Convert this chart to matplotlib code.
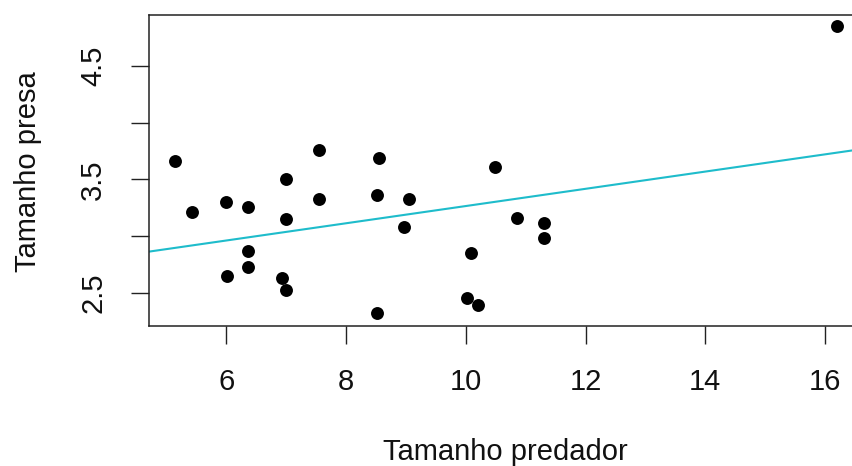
import matplotlib
matplotlib.use("Agg")
import matplotlib.pyplot as plt
import numpy as np

# Data
predador = [5.15, 5.43, 5.99, 6.02, 6.36, 6.36, 6.36, 6.99, 6.99, 6.93, 6.99,
            7.55, 7.55, 8.55, 8.52, 8.52, 9.05, 8.96, 10.08, 10.02, 10.21,
            10.48, 10.86, 11.30, 11.30, 16.20]
presa = [3.66, 3.21, 3.30, 2.65, 3.26, 2.87, 2.73, 3.50, 3.15, 2.63, 2.53,
         3.76, 3.33, 3.69, 3.36, 2.32, 3.33, 3.08, 2.85, 2.46, 2.39,
         3.61, 3.16, 3.12, 2.98, 4.85]
x_ticks = [6, 8, 10, 12, 14, 16]
y_ticks = [2.5, 3.0, 3.5, 4.0, 4.5]
y_ticklabels = ["2.5", "", "3.5", "", "4.5"]
x_label = "Tamanho predador"
y_label = "Tamanho presa"

plt.rcParams['font.family'] = ['Liberation Sans', 'DejaVu Sans']

W, H = 852, 466
fig = plt.figure(figsize=(W / 100, H / 100), dpi=100)
left, right, top, bottom = 149, 861, 15, 326
ax = fig.add_axes([left / W, 1 - bottom / H, (right - left) / W, (bottom - top) / H])

ax.plot(predador, presa, 'o', color='black', ms=9.3, mec='none', zorder=3)

slope, intercept = np.polyfit(predador, presa, 1)
ax.axline((0, intercept), slope=slope, color='#1EBCCB', lw=1.5, zorder=2)

ax.set_xlim(4.709, 16.60)
ax.set_ylim(2.209, 4.949)
ax.set_xticks(x_ticks)
ax.set_xticklabels([str(v) for v in x_ticks])
ax.set_yticks(y_ticks)
ax.set_yticklabels(y_ticklabels, rotation=90, va='center')

fs = 21
ax.tick_params(axis='both', length=13, width=1.0, color='#222222', labelsize=fs,
               labelcolor='#111111', direction='out')
ax.tick_params(axis='x', pad=17)
ax.tick_params(axis='y', pad=17)
for sp in ax.spines.values():
    sp.set_linewidth(1.1)
    sp.set_color('#222222')

fig.text(505 / W, 1 - 452 / H, x_label, ha='center', va='center', fontsize=fs, color='#111111')
fig.text(28 / W, 1 - 172 / H, y_label, ha='center', va='center', rotation=90, fontsize=fs,
         color='#111111')

fig.savefig("out.png", dpi=100)
